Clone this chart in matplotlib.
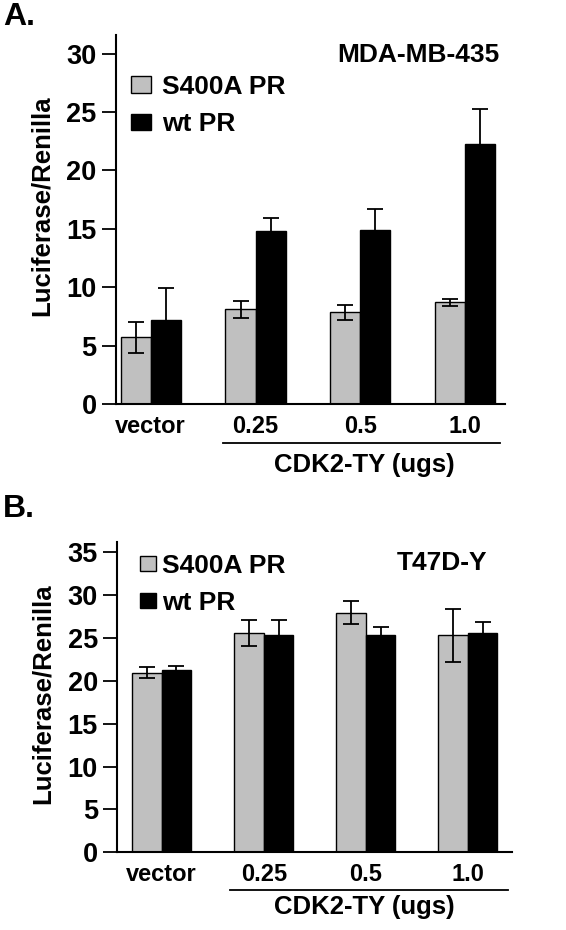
import numpy as np
import matplotlib
matplotlib.use("Agg")
import matplotlib.pyplot as plt

plt.rcParams["font.family"] = ["Liberation Sans", "DejaVu Sans"]
plt.rcParams["font.weight"] = "bold"

groups = ["vector", "0.25", "0.5", "1.0"]
series = ["S400A PR", "wt PR"]

# panel A - MDA-MB-435
a_s400a = [5.7, 8.1, 7.85, 8.7]
a_s400a_err = [1.35, 0.7, 0.65, 0.28]
a_wt = [7.2, 14.8, 14.9, 22.3]
a_wt_err = [2.7, 1.1, 1.8, 3.0]

# panel B - T47D-Y
b_s400a = [20.95, 25.6, 27.95, 25.3]
b_s400a_err = [0.6, 1.5, 1.3, 3.1]
b_wt = [21.3, 25.3, 25.3, 25.6]
b_wt_err = [0.45, 1.8, 1.0, 1.2]

gray = "#c0c0c0"

fig = plt.figure(figsize=(5.66, 9.30), dpi=100)
axA = fig.add_axes([0.205, 0.5656, 0.687, 0.3968])
axB = fig.add_axes([0.2073, 0.0835, 0.6973, 0.334])


def draw(ax, s_vals, s_err, w_vals, w_err, width, ylim, yticks, xlim, cell,
         cell_xy, ylab_y, line_y, line_x, text_y, text_x, leg):
    x = np.arange(len(groups))
    b1 = ax.bar(x - width / 2, s_vals, width, color=gray, edgecolor="black",
                linewidth=1.0, label=series[0])
    b2 = ax.bar(x + width / 2, w_vals, width, color="black", edgecolor="black",
                linewidth=1.0, label=series[1])
    ax.errorbar(x - width / 2, s_vals, yerr=s_err, fmt="none", ecolor="black",
                elinewidth=1.3, capsize=6, capthick=1.3)
    ax.errorbar(x + width / 2, w_vals, yerr=w_err, fmt="none", ecolor="black",
                elinewidth=1.3, capsize=6, capthick=1.3)
    ax.set_xlim(*xlim)
    ax.set_ylim(*ylim)
    ax.set_yticks(yticks)
    ax.set_xticks(x)
    ax.set_xticklabels(groups, fontsize=17, fontweight="bold")
    ax.tick_params(axis="x", length=0, pad=8)
    ax.tick_params(axis="y", length=10, width=1.3, labelsize=19.5, pad=4,
                   direction="out")
    for lab in ax.get_yticklabels():
        lab.set_fontweight("bold")
    for s in ["top", "right"]:
        ax.spines[s].set_visible(False)
    for s in ["left", "bottom"]:
        ax.spines[s].set_linewidth(1.5)
    ax.set_ylabel("Luciferase/Renilla", fontsize=18.5, fontweight="bold",
                  labelpad=9, y=ylab_y)
    ax.text(cell_xy[0], cell_xy[1], cell, transform=ax.transAxes, ha="right",
            va="center", fontsize=19, fontweight="bold")
    ax.plot(line_x, [line_y, line_y], color="black", lw=1.3,
            transform=ax.get_xaxis_transform(), clip_on=False)
    ax.text(text_x, text_y, "CDK2-TY (ugs)", transform=ax.get_xaxis_transform(),
            ha="center", va="center", fontsize=18.5, fontweight="bold")
    ax.legend(handles=[b1, b2], loc="upper left", bbox_to_anchor=leg[0],
              frameon=False, fontsize=19, handlelength=leg[1],
              handleheight=leg[2], handletextpad=leg[3], labelspacing=0.5,
              borderaxespad=0)


draw(axA, a_s400a, a_s400a_err, a_wt, a_wt_err, 0.286, (0, 31.6),
     [0, 5, 10, 15, 20, 25, 30], (-0.329, 3.376), "MDA-MB-435", (0.987, 0.946),
     0.537, -0.105, [0.69, 3.33], -0.165, 2.04, ((0.012, 0.92), 0.75, 0.6, 0.4))
draw(axB, b_s400a, b_s400a_err, b_wt, b_wt_err, 0.29, (0, 36.2),
     [0, 5, 10, 15, 20, 25, 30, 35], (-0.435, 3.434), "T47D-Y", (0.937, 0.93),
     0.51, -0.121, [0.67, 3.395], -0.175, 1.99, ((0.03, 0.995), 0.6, 0.5, 0.25))

fig.text(0.005, 0.982, "A.", fontsize=23, fontweight="bold", va="center")
fig.text(0.005, 0.453, "B.", fontsize=23, fontweight="bold", va="center")

fig.savefig("out.png", dpi=100)
